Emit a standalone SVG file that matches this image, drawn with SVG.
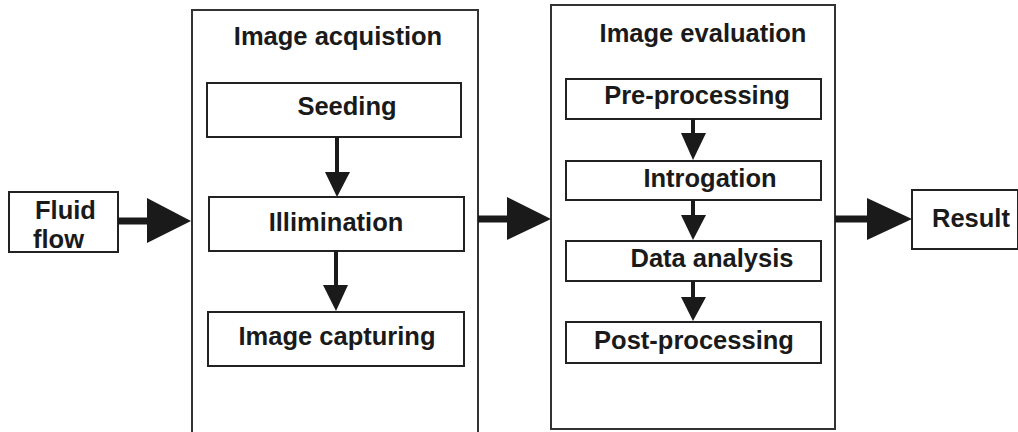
<svg xmlns="http://www.w3.org/2000/svg" width="1018" height="432" viewBox="0 0 1018 432">
<style>
.box{fill:#fff;stroke:#222;stroke-width:2}
.big{fill:#fff;stroke:#333;stroke-width:2}
.t{font-family:"Liberation Sans",Arial,sans-serif;font-weight:bold;font-size:25.5px;fill:#1a1a1a;text-anchor:middle}
.l{text-anchor:start}
.ln{stroke:#1a1a1a;fill:none}
.ah{fill:#1a1a1a}
</style>
<rect width="1018" height="432" fill="#fff"/>
<g id="fluid">
<rect class="box" x="9" y="192" width="109" height="60"/>
<text class="t l" x="35" y="219">Fluid</text>
<text class="t l" x="33" y="248">flow</text>
</g>
<g id="acquisition">
<rect class="big" x="192" y="10" width="286" height="424"/>
<text class="t" x="338" y="45">Image acquistion</text>
</g>
<g id="seeding">
<rect class="box" x="207" y="83" width="254" height="54"/>
<text class="t" x="347" y="115">Seeding</text>
</g>
<g id="illimination">
<rect class="box" x="209" y="197" width="255" height="54"/>
<text class="t" x="336" y="231">Illimination</text>
</g>
<g id="capturing">
<rect class="box" x="208" y="312" width="256" height="54"/>
<text class="t" x="337" y="345">Image capturing</text>
</g>
<g id="evaluation">
<rect class="big" x="551" y="5" width="284" height="424"/>
<text class="t" x="703" y="42">Image evaluation</text>
</g>
<g id="preprocessing">
<rect class="box" x="566" y="79" width="255" height="40"/>
<text class="t" x="697" y="104">Pre-processing</text>
</g>
<g id="introgation">
<rect class="box" x="566" y="161" width="255" height="39"/>
<text class="t" x="710" y="187">Introgation</text>
</g>
<g id="dataanalysis">
<rect class="box" x="566" y="241" width="255" height="40"/>
<text class="t" x="712" y="267">Data analysis</text>
</g>
<g id="postprocessing">
<rect class="box" x="566" y="322" width="255" height="41"/>
<text class="t" x="694" y="349">Post-processing</text>
</g>
<g id="result">
<rect class="box" x="912" y="190" width="106" height="59"/>
<text class="t l" x="932" y="227">Result</text>
</g>
<g id="connectors">
<line class="ln" x1="118" y1="221" x2="150" y2="221" stroke-width="7"/>
<polygon class="ah" points="147,198 191,221 147,243"/>
<line class="ln" x1="478" y1="219" x2="510" y2="219" stroke-width="7"/>
<polygon class="ah" points="507,197 551,219 507,240"/>
<line class="ln" x1="835" y1="219" x2="869" y2="219" stroke-width="7"/>
<polygon class="ah" points="867,198 912,219 867,240"/>
<line class="ln" x1="337" y1="137" x2="337" y2="174" stroke-width="4"/>
<polygon class="ah" points="325,172 350,172 337,197"/>
<line class="ln" x1="336" y1="251" x2="336" y2="287" stroke-width="4"/>
<polygon class="ah" points="323,285 348,285 336,311"/>
<line class="ln" x1="693" y1="119" x2="693" y2="135" stroke-width="4"/>
<polygon class="ah" points="681,133 706,133 693,160"/>
<line class="ln" x1="693" y1="200" x2="693" y2="217" stroke-width="4"/>
<polygon class="ah" points="681,215 706,215 693,240"/>
<line class="ln" x1="693" y1="281" x2="693" y2="299" stroke-width="4"/>
<polygon class="ah" points="681,297 706,297 693,321"/>
</g>
</svg>
